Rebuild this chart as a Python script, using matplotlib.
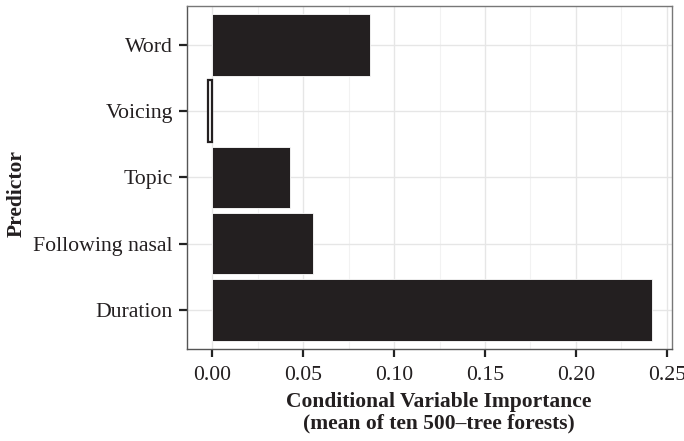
import matplotlib
matplotlib.use("Agg")
import matplotlib.pyplot as plt
from matplotlib.ticker import MultipleLocator

predictors = ["Duration", "Following nasal", "Topic", "Voicing", "Word"]
importance = [0.2421, 0.0555, 0.0429, -0.0025, 0.0865]
xticks = [0.00, 0.05, 0.10, 0.15, 0.20, 0.25]
xtick_labels = ["0.00", "0.05", "0.10", "0.15", "0.20", "0.25"]

plt.rcParams["font.family"] = ["Liberation Serif", "DejaVu Serif"]

fig = plt.figure(figsize=(6.84, 4.41), dpi=100)
ax = fig.add_axes([0.273, 0.2086, 0.982 - 0.273, 0.987 - 0.2086])

dark = "#231f20"
face = [dark if v >= 0 else "white" for v in importance]
edge = ["white" if v >= 0 else dark for v in importance]
lws = [0.6 if v >= 0 else 1.6 for v in importance]
ypos = list(range(len(predictors)))
ax.barh(ypos, importance, height=0.93, color=face, edgecolor=edge,
        linewidth=lws, zorder=3)

ax.set_xlim(-0.0141, 0.2527)
ax.set_ylim(-0.59, 4.59)
ax.set_xticks(xticks)
ax.set_xticklabels(xtick_labels)
ax.xaxis.set_minor_locator(MultipleLocator(0.025))
ax.set_yticks(ypos)
ax.set_yticklabels(predictors)

ax.grid(which="major", color="#e6e6e6", linewidth=1.0, zorder=0)
ax.grid(which="minor", axis="x", color="#f2f2f2", linewidth=0.8, zorder=0)
ax.set_axisbelow(True)

for s in ax.spines.values():
    s.set_color("#777777")
    s.set_linewidth(1.0)
ax.spines["left"].set_color("#555555")
ax.spines["bottom"].set_color("#555555")

ax.tick_params(axis="both", which="major", length=5.5, width=1.6, color="#222222",
               labelsize=15.7, labelcolor="#231f20")
ax.tick_params(axis="x", which="major", pad=6.5)
ax.tick_params(axis="y", which="major", pad=4.5)
ax.tick_params(axis="x", which="minor", length=0)

ax.set_xlabel("Conditional Variable Importance\n(mean of ten 500\u2013tree forests)",
              fontsize=15.5, fontweight="bold", color="#231f20",
              linespacing=1.13)
ax.xaxis.set_label_coords(0.52, -0.125)
ax.set_ylabel("Predictor", fontsize=15.5, fontweight="bold", color="#231f20")
ax.yaxis.set_label_coords(-0.33, 0.454)

fig.savefig("out.png", dpi=100)
